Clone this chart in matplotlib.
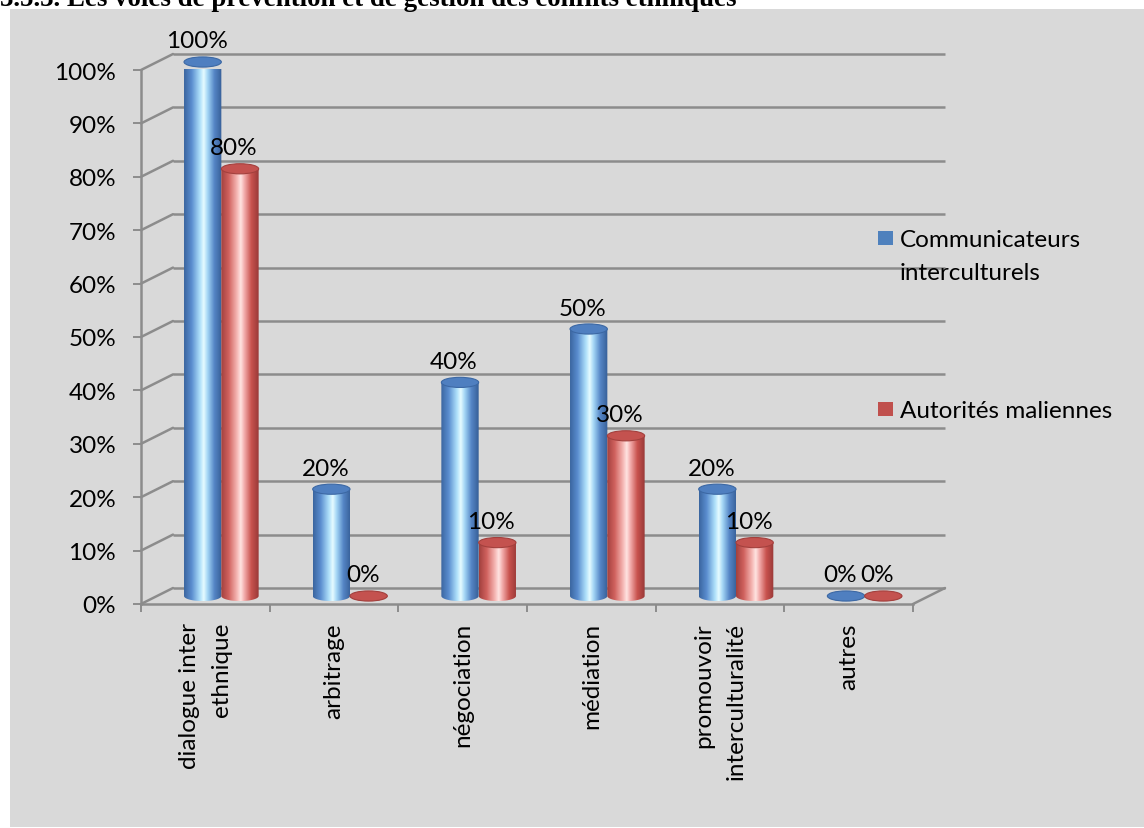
import numpy as np
import matplotlib
matplotlib.use("Agg")
import matplotlib.pyplot as plt
from matplotlib.patches import Ellipse, Rectangle, PathPatch, ConnectionPatch
from matplotlib.path import Path
from matplotlib.colors import LinearSegmentedColormap
from matplotlib.transforms import ScaledTranslation

title = "3.5.3. Les voies de prévention et de gestion des conflits ethniques"
categories = ["dialogue inter\nethnique", "arbitrage", "négociation", "médiation",
              "promouvoir\ninterculturalité", "autres"]
communicateurs = [100, 20, 40, 50, 20, 0]
autorites = [80, 0, 10, 30, 10, 0]
series_names = ["Communicateurs\ninterculturels", "Autorités maliennes"]
y_ticks = list(range(0, 101, 10))

W, H = 1144, 829
FS = 17.5
plt.rcParams['font.family'] = ['Lato', 'DejaVu Sans']
fig = plt.figure(figsize=(W / 100, H / 100), dpi=100)


def fx(px):
    return px / W


def fy(py):
    return 1 - py / H


# grey chart area
fig.patches.append(Rectangle((fx(10), fy(828)), 1 - fx(10), fy(10) - fy(828),
                             transform=fig.transFigure, facecolor='#d9d9d9',
                             edgecolor='none', zorder=-5))
fig.text(fx(0), fy(6), title, family='Liberation Serif', weight='bold',
         fontsize=19.4, va='baseline', ha='left')

ax = fig.add_axes([fx(141), fy(605), fx(913) - fx(141), fy(71) - fy(605)])
ax.set_facecolor('none')

# pseudo-3d depth: back wall and the plane the cylinders stand on
back = ax.transData + ScaledTranslation(0.32, 0.16, fig.dpi_scale_trans)
mid = ax.transData + ScaledTranslation(0.16, 0.08, fig.dpi_scale_trans)

grid_c = '#8c8c8c'
grid_lw = 1.8
for v in y_ticks:
    ax.plot([0, 6], [v, v], color=grid_c, lw=grid_lw, transform=back,
            clip_on=False, zorder=1, solid_capstyle='butt')
    fig.add_artist(ConnectionPatch((0, v), (0, v), coordsA=ax.transData,
                                   coordsB=back, color=grid_c, lw=grid_lw,
                                   zorder=1))
fig.add_artist(ConnectionPatch((6, 0), (6, 0), coordsA=ax.transData,
                               coordsB=back, color=grid_c, lw=grid_lw, zorder=1))

blue_cmap = LinearSegmentedColormap.from_list('blue_cyl', [
    (0.0, '#3a659f'), (0.2, '#5a8dcf'), (0.42, '#aee0fa'), (0.52, '#e6fbff'),
    (0.62, '#a6d8f6'), (0.8, '#5586c6'), (1.0, '#365e96')])
red_cmap = LinearSegmentedColormap.from_list('red_cyl', [
    (0.0, '#a1403e'), (0.2, '#d0615d'), (0.42, '#f5b6b3'), (0.52, '#ffe4e2'),
    (0.62, '#f2abaa'), (0.8, '#c8524e'), (1.0, '#983937')])

w = 0.29      # cylinder diameter in category units
eh = 1.9      # height of the elliptical cap in value units
grad = np.linspace(0, 1, 256).reshape(1, -1)


def cylinder(xl, v, cmap, face, edge):
    xc = xl + w / 2
    t = np.linspace(np.pi, 2 * np.pi, 40)
    bx = xc + w / 2 * np.cos(t)
    by = eh / 2 * np.sin(t)
    verts = list(zip(bx, by)) + [(xl + w, v), (xl, v), (bx[0], by[0])]
    body = PathPatch(Path(verts, closed=True), transform=mid,
                     facecolor='none', edgecolor='none', clip_on=False)
    ax.add_patch(body)
    im = ax.imshow(grad, cmap=cmap, extent=[xl, xl + w, -eh / 2, v],
                   transform=mid, aspect='auto', interpolation='bilinear',
                   zorder=3)
    im.set_clip_path(body)
    im.set_clip_box(None)
    ax.add_patch(Ellipse((xc, v), w, eh, transform=mid, facecolor=face,
                         edgecolor=edge, lw=0.8, zorder=4, clip_on=False))
    ax.annotate(f"{v}%", xy=(xc, v), xycoords=mid, xytext=(-6, 21),
                textcoords='offset pixels', ha='center', va='center',
                fontsize=FS, zorder=5, annotation_clip=False)


for i in range(len(categories)):
    cylinder(i + 0.5 - w, communicateurs[i], blue_cmap, '#4f7fc0', '#3c68a4')
    cylinder(i + 0.5, autorites[i], red_cmap, '#c4524f', '#a3403d')

ax.set_xlim(0, 6)
ax.set_ylim(0, 100)

for s in ['top', 'right']:
    ax.spines[s].set_visible(False)
for s in ['left', 'bottom']:
    ax.spines[s].set_color(grid_c)
    ax.spines[s].set_linewidth(grid_lw)

ax.set_yticks(y_ticks, labels=[f"{v}%" for v in y_ticks])
ax.tick_params(axis='y', direction='out', length=5.8, width=1.4, color=grid_c,
               pad=12, labelsize=FS)
ax.set_xticks(range(7), labels=[''] * 7)
ax.set_xticks(np.arange(6) + 0.5, labels=categories, minor=True)
ax.tick_params(axis='x', which='major', direction='out', length=5.8,
               width=1.4, color=grid_c)
ax.tick_params(axis='x', which='minor', length=0, pad=13, labelsize=FS,
               labelrotation=90)
for lbl in ax.get_xticklabels(minor=True):
    lbl.set_multialignment('right')
    lbl.set_linespacing(1.64)

# legend
fig.patches.append(Rectangle((fx(878), fy(246)), fx(15), fy(0) - fy(14),
                             transform=fig.transFigure, facecolor='#4f81bd',
                             edgecolor='none'))
fig.text(fx(900), fy(280), series_names[0], fontsize=FS, va='baseline',
         ha='left', linespacing=1.7)
fig.patches.append(Rectangle((fx(878), fy(417)), fx(15), fy(0) - fy(14),
                             transform=fig.transFigure, facecolor='#c0504d',
                             edgecolor='none'))
fig.text(fx(900), fy(418), series_names[1], fontsize=FS, va='baseline',
         ha='left')

fig.savefig('out.png', dpi=100, facecolor='white')
